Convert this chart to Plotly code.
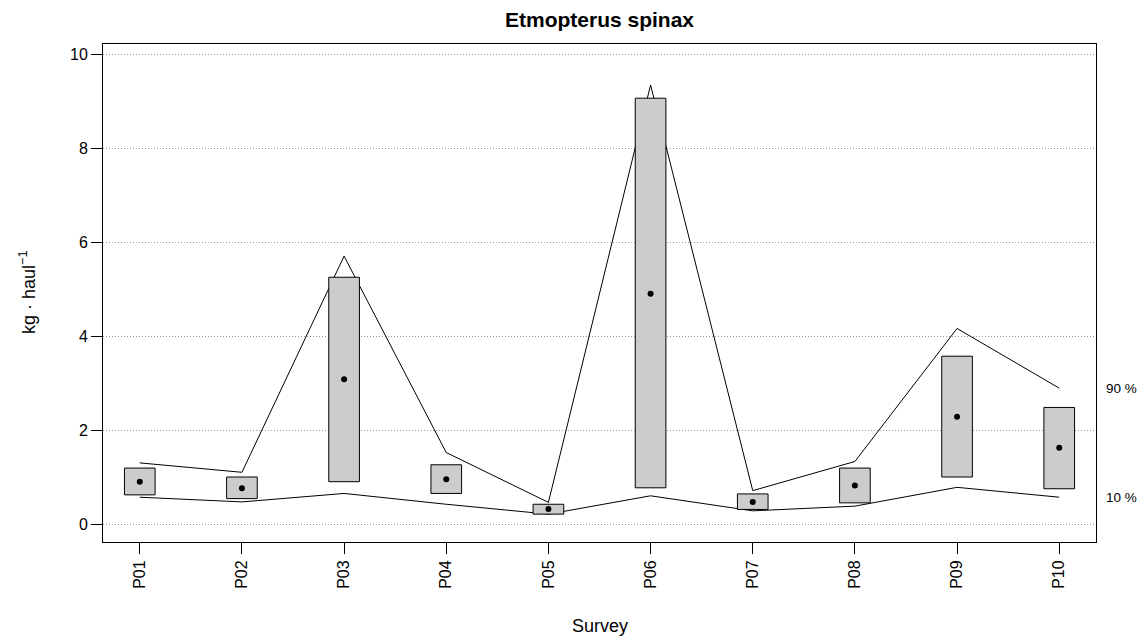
import plotly.graph_objects as go

surveys = ["P01", "P02", "P03", "P04", "P05", "P06", "P07", "P08", "P09", "P10"]
box_low = [0.62, 0.54, 0.90, 0.65, 0.21, 0.77, 0.31, 0.45, 1.00, 0.75]
box_high = [1.19, 1.00, 5.25, 1.26, 0.42, 9.06, 0.64, 1.19, 3.57, 2.48]
mean_val = [0.90, 0.76, 3.08, 0.95, 0.32, 4.90, 0.47, 0.82, 2.28, 1.62]
q90 = [1.30, 1.10, 5.70, 1.52, 0.46, 9.34, 0.71, 1.33, 4.16, 2.89]
q10 = [0.57, 0.47, 0.65, 0.42, 0.21, 0.60, 0.28, 0.38, 0.78, 0.57]
y_ticks = [0, 2, 4, 6, 8, 10]

xpos = list(range(1, len(surveys) + 1))
half_w = 0.15
font_family = "Liberation Sans, Arial, sans-serif"

fig = go.Figure()

# percentile lines (below boxes)
fig.add_trace(go.Scatter(x=xpos, y=q90, mode="lines",
                         line=dict(color="black", width=1), hoverinfo="skip"))
fig.add_trace(go.Scatter(x=xpos, y=q10, mode="lines",
                         line=dict(color="black", width=1), hoverinfo="skip"))

# boxes as closed polygons
bx, by = [], []
for xi, lo, hi in zip(xpos, box_low, box_high):
    bx += [xi - half_w, xi + half_w, xi + half_w, xi - half_w, xi - half_w, None]
    by += [lo, lo, hi, hi, lo, None]
fig.add_trace(go.Scatter(x=bx, y=by, mode="lines", fill="toself",
                         fillcolor="#CCCCCC", line=dict(color="black", width=1),
                         hoverinfo="skip"))

# mean points
fig.add_trace(go.Scatter(x=xpos, y=mean_val, mode="markers",
                         marker=dict(color="black", size=6)))

fig.add_annotation(text="90 %", xref="paper", x=1, xshift=8, xanchor="left",
                   yref="y", y=q90[-1], yanchor="middle", showarrow=False,
                   font=dict(size=13.5, color="black", family=font_family))
fig.add_annotation(text="10 %", xref="paper", x=1, xshift=8, xanchor="left",
                   yref="y", y=q10[-1], yanchor="middle", showarrow=False,
                   font=dict(size=13.5, color="black", family=font_family))

# axis titles
fig.add_annotation(text="Survey", xref="paper", x=0.5, yref="paper", y=0,
                   yshift=-84, yanchor="middle", xanchor="center", showarrow=False,
                   font=dict(size=18, color="black", family=font_family))
fig.add_annotation(text="kg · haul<sup>−1</sup>", xref="paper", x=0, xshift=-76,
                   xanchor="center", yref="paper", y=0.5, yanchor="middle",
                   textangle=-90, showarrow=False,
                   font=dict(size=18, color="black", family=font_family))

W, H = 1138, 636
fig.update_layout(
    width=W, height=H,
    margin=dict(l=95, r=50, t=36, b=102),
    plot_bgcolor="white", paper_bgcolor="white",
    showlegend=False,
    font=dict(family=font_family, size=16, color="black"),
    title=dict(text="<b>Etmopterus spinax</b>", x=(95 + 1088) / 2 / W,
               xanchor="center", y=1 - 12 / H, yanchor="middle",
               font=dict(size=21, color="black")),
)
fig.update_xaxes(
    range=[0.64, 10.36], tickvals=xpos, ticktext=surveys, tickangle=-90,
    showgrid=False, zeroline=False, showline=True, linecolor="black",
    linewidth=1, mirror=True, ticks="outside", ticklen=11, tickcolor="black",
    tickfont=dict(size=16),
)
fig.update_yaxes(
    range=[-0.383, 10.213], tickvals=y_ticks, ticktext=[str(v) for v in y_ticks],
    showgrid=True, gridcolor="#999999", griddash="1px,2px", gridwidth=1,
    zeroline=False, showline=True, linecolor="black", linewidth=1, mirror=True,
    ticks="outside", ticklen=11, tickcolor="black", tickfont=dict(size=16),
)

fig.write_html("out.html")
